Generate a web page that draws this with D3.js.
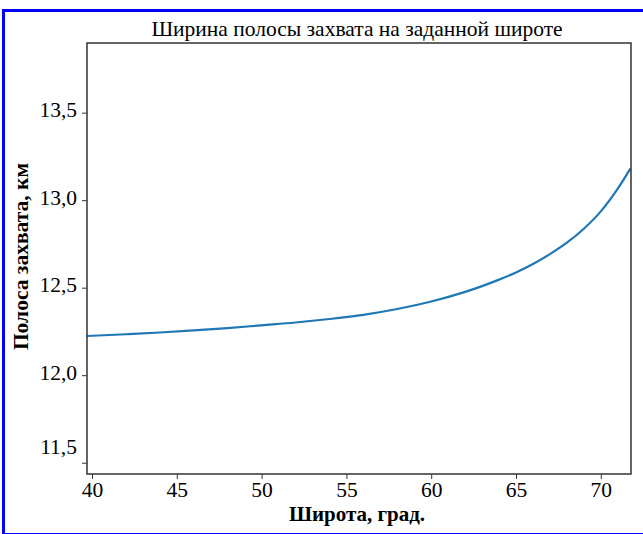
<!DOCTYPE html>
<html>
<head>
<meta charset="utf-8">
<script src="https://cdn.jsdelivr.net/npm/d3@7"></script>
<style>
  html, body { margin: 0; padding: 0; background: #fff; }
  svg { display: block; }
  text { font-family: "Liberation Serif", "Times New Roman", serif; fill: #000; }
</style>
</head>
<body>
<svg id="chart" width="643" height="534"></svg>
<script>
// Swath width versus latitude
const latitude = [39.7, 42, 44, 46, 48, 50, 52, 54, 56, 58, 60, 62, 63, 64, 65, 66, 67, 68, 69, 70, 71, 71.75];
const swathKm  = [12.224, 12.234, 12.244, 12.256, 12.269, 12.285, 12.301, 12.321, 12.345, 12.378, 12.421, 12.476,
                  12.509, 12.546, 12.587, 12.635, 12.692, 12.757, 12.837, 12.936, 13.066, 13.182];

const xTicks = [40, 45, 50, 55, 60, 65, 70];
const yTicks = [11.5, 12.0, 12.5, 13.0, 13.5];
const xDomain = [39.705, 71.78];
const yDomain = [11.4355, 13.898];

const titleText = "Ширина полосы захвата на заданной широте";
const xLabel = "Широта, град.";
const yLabel = "Полоса захвата, км";

const svg = d3.select("#chart");
const W = 643, H = 534;
const plot = { left: 87, right: 631, top: 43, bottom: 474 };

// outer frame
svg.append("rect")
  .attr("x", 3.5).attr("y", 10.5)
  .attr("width", W + 10).attr("height", 524)
  .attr("fill", "none").attr("stroke", "#0000ff").attr("stroke-width", 3);

const x = d3.scaleLinear().domain(xDomain).range([plot.left, plot.right]);
const y = d3.scaleLinear().domain(yDomain).range([plot.bottom, plot.top]);

const fmt = d => d3.format(".1f")(d).replace(".", ",");

// x axis
const gx = svg.append("g")
  .attr("transform", `translate(0,${plot.bottom})`)
  .call(d3.axisBottom(x).tickValues(xTicks).tickFormat(d3.format("d")).tickSize(5).tickPadding(3));
gx.select(".domain").remove();
gx.selectAll("text").attr("font-size", 21.5).style("font-family", "Liberation Serif");
gx.selectAll("line").attr("stroke", "#333");

// y axis; the lowest label is lifted clear of the x axis
const gy = svg.append("g")
  .attr("transform", `translate(${plot.left},0)`)
  .call(d3.axisLeft(y).tickValues(yTicks).tickFormat(fmt).tickSize(5).tickPadding(5));
gy.select(".domain").remove();
gy.selectAll("text")
  .attr("font-size", 21.5).style("font-family", "Liberation Serif")
  .attr("dy", "0.2em")
  .attr("y", d => d === yTicks[0] ? -14 : 0);
gy.selectAll("line").attr("stroke", "#333");

// curve
svg.append("path")
  .datum(latitude.map((v, i) => [v, swathKm[i]]))
  .attr("fill", "none")
  .attr("stroke", "#1f77b4")
  .attr("stroke-width", 2.2)
  .attr("d", d3.line().x(d => x(d[0])).y(d => y(d[1])).curve(d3.curveMonotoneX));

// plot frame
svg.append("rect")
  .attr("x", plot.left).attr("y", plot.top)
  .attr("width", plot.right - plot.left).attr("height", plot.bottom - plot.top)
  .attr("fill", "none").attr("stroke", "#333").attr("stroke-width", 1.5);

// title and axis labels
svg.append("text")
  .attr("x", (plot.left + plot.right) / 2 - 2).attr("y", 36)
  .attr("text-anchor", "middle").attr("font-size", 21.5)
  .text(titleText);

svg.append("text")
  .attr("x", (plot.left + plot.right) / 2 - 2).attr("y", 521)
  .attr("text-anchor", "middle").attr("font-size", 21).attr("font-weight", "bold")
  .text(xLabel);

svg.append("text")
  .attr("transform", `translate(28,${(plot.top + plot.bottom) / 2 - 2}) rotate(-90)`)
  .attr("text-anchor", "middle").attr("font-size", 21.5).attr("font-weight", "bold")
  .text(yLabel);
</script>
</body>
</html>
